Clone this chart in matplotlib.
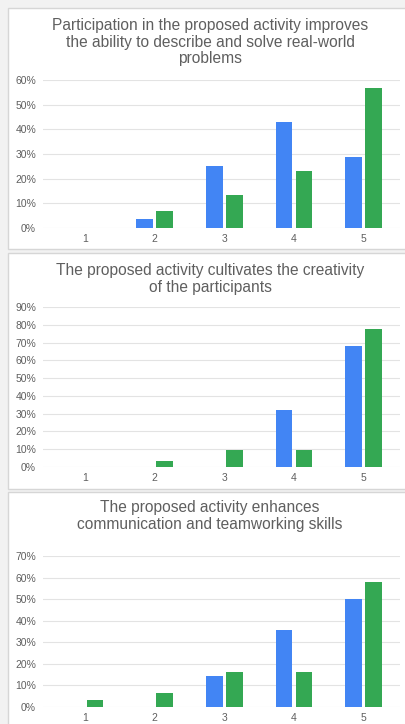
import numpy as np
import matplotlib.pyplot as plt
from matplotlib.patches import Rectangle

plt.rcParams['font.family'] = ['Liberation Sans', 'DejaVu Sans']

W, H = 406, 724

cats = [1, 2, 3, 4, 5]

title1 = "Participation in the proposed activity improves\nthe ability to describe and solve real-world\nproblems"
blue1 = [0, 3.6, 25.0, 42.9, 28.6]
green1 = [0, 6.7, 13.3, 23.3, 56.7]

title2 = "The proposed activity cultivates the creativity\nof the participants"
blue2 = [0, 0, 0, 32.1, 67.9]
green2 = [0, 3.2, 9.7, 9.7, 77.4]

title3 = "The proposed activity enhances\ncommunication and teamworking skills"
blue3 = [0, 0, 14.3, 35.7, 50.0]
green3 = [3.2, 6.5, 16.1, 16.1, 58.1]

BLUE = '#4285f4'
GREEN = '#34a853'
TXT = '#5f5f5f'
GRID = '#e3e3e3'


def px_rect(x0, y0, x1, y1):
    # pixel box (top-left origin) -> figure fraction
    return [x0 / W, 1 - y1 / H, (x1 - x0) / W, (y1 - y0) / H]


fig = plt.figure(figsize=(W / 100, H / 100), dpi=100)
fig.patch.set_facecolor('#f2f2f2')

# white cards
for y0, y1 in [(8, 249), (253, 489), (492, 730)]:
    x0, y0f, w, h = px_rect(8, y0, 412, y1)
    fig.add_artist(Rectangle((x0, y0f), w, h, transform=fig.transFigure,
                             facecolor='white', edgecolor='#d6d6d6', lw=1, zorder=0))

panels = [
    (title1, blue1, green1, 60, (80, 228), 42),
    (title2, blue2, green2, 90, (307, 467), 279),
    (title3, blue3, green3, 70, (556, 707), 516),
]

x = np.array(cats)
for title, b, g, ymax, (ytop, ybot), ty in panels:
    ax = fig.add_axes(px_rect(43, ytop, 400, ybot))
    ax.set_facecolor('none')
    ax.bar(x - 0.145, b, width=0.24, color=BLUE, zorder=3)
    ax.bar(x + 0.145, g, width=0.24, color=GREEN, zorder=3)
    ax.set_xlim(0.4, 5.52)
    ax.set_ylim(0, ymax)
    ax.set_yticks(np.arange(0, ymax + 1, 10))
    ax.set_yticklabels([f'{v}%' for v in range(0, ymax + 1, 10)])
    ax.set_xticks(x)
    ax.set_xticklabels([str(c) for c in cats])
    ax.grid(axis='y', color=GRID, lw=0.8, zorder=0)
    for s in ax.spines.values():
        s.set_visible(False)
    ax.tick_params(length=0, labelsize=7.5, colors=TXT)
    ax.tick_params(axis='y', pad=5)
    ax.tick_params(axis='x', pad=4)
    fig.text(210 / W, 1 - ty / H, title, ha='center', va='center',
             fontsize=11.2, color=TXT, linespacing=1.12)

fig.savefig('out.png', dpi=100, facecolor=fig.get_facecolor())
